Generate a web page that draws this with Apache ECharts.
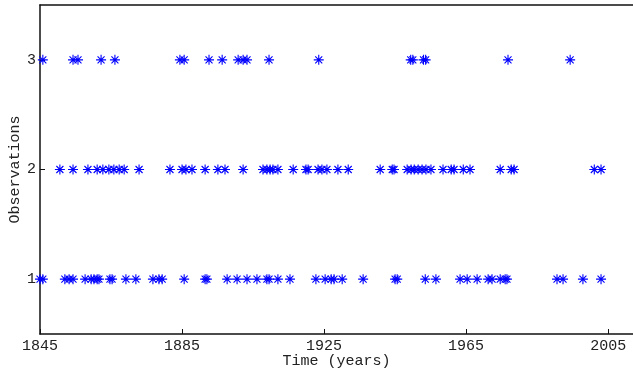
<!DOCTYPE html>
<html>
<head>
<meta charset="utf-8">
<script src="https://cdn.jsdelivr.net/npm/echarts@6/dist/echarts.min.js"></script>
<style>
  html, body { margin: 0; padding: 0; background: #fff; }
  #chart { width: 633px; height: 372px; }
</style>
</head>
<body>
<div id="chart"></div>
<script>
// Years at which each observation count was recorded
const yearsOne = [1845.0, 1845.8, 1852.0, 1853.2, 1854.3, 1857.7, 1859.4, 1860.2, 1861.1, 1861.6,
  1864.7, 1865.3, 1869.2, 1872.0, 1876.8, 1878.5, 1879.4, 1885.6, 1891.5, 1892.0,
  1897.7, 1900.5, 1903.3, 1906.1, 1908.9, 1909.5, 1912.0, 1915.4, 1922.7, 1925.3,
  1927.0, 1927.8, 1930.1, 1936.0, 1945.0, 1945.6, 1953.5, 1956.5, 1963.3, 1965.3,
  1968.1, 1971.2, 1972.3, 1974.6, 1976.0, 1976.5, 1990.6, 1992.3, 1997.9, 2003.0];
const yearsTwo = [1850.6, 1854.3, 1858.5, 1861.1, 1862.7, 1864.4, 1865.8, 1867.3, 1868.7, 1872.9,
  1881.6, 1885.0, 1886.1, 1887.8, 1891.5, 1895.1, 1897.1, 1902.2, 1907.8, 1908.9,
  1909.8, 1910.6, 1912.0, 1916.3, 1919.9, 1920.5, 1923.3, 1924.4, 1925.8, 1928.9,
  1931.8, 1940.8, 1944.2, 1944.7, 1948.4, 1949.5, 1950.4, 1951.5, 1952.6, 1953.7,
  1955.1, 1958.5, 1960.8, 1961.6, 1964.2, 1966.1, 1974.6, 1977.7, 1978.5, 2001.1, 2003.0];
const yearsThree = [1845.8, 1854.3, 1855.7, 1862.2, 1866.1, 1884.4, 1885.6, 1892.6, 1896.3,
  1900.8, 1902.2, 1903.3, 1909.5, 1923.5, 1949.4, 1950.0, 1953.0, 1953.6, 1976.8, 1994.3];
const xTicks = [1845, 1885, 1925, 1965, 2005];
const yTicks = [1, 2, 3];

const points = []
  .concat(yearsOne.map(x => [x, 1]))
  .concat(yearsTwo.map(x => [x, 2]))
  .concat(yearsThree.map(x => [x, 3]));

const FONT = '"Liberation Mono", "DejaVu Sans Mono", monospace';
const ASTERISK = 'path://M10,0L10,20M0,10L20,10M3,3L17,17M3,17L17,3';

const chart = echarts.init(document.getElementById('chart'), null, { renderer: 'canvas' });
chart.setOption({
  animation: false,
  backgroundColor: '#ffffff',
  grid: {
    left: 40, top: 5, right: 0, bottom: 38, show: false,
    containLabel: false, outerBoundsMode: 'none'
  },
  xAxis: [{
    type: 'value',
    min: 1845,
    max: 2012,
    name: 'Time (years)',
    nameLocation: 'middle',
    nameGap: 20,
    nameMoveOverlap: false,
    nameTextStyle: { fontFamily: FONT, fontSize: 15, color: '#222' },
    axisLine: { show: true, lineStyle: { color: '#111', width: 1.5 } },
    axisTick: { show: true, inside: true, length: 5, customValues: xTicks, lineStyle: { color: '#111' } },
    axisLabel: {
      customValues: xTicks, fontFamily: FONT, fontSize: 15, color: '#222', margin: 5,
      formatter: v => String(v)
    },
    splitLine: { show: false }
  }, {
    type: 'value',
    position: 'top',
    min: 1845,
    max: 2012,
    axisLine: { show: true, lineStyle: { color: '#111', width: 1.5 } },
    axisTick: { show: false },
    axisLabel: { show: false },
    splitLine: { show: false }
  }],
  yAxis: {
    type: 'value',
    min: 0.5,
    max: 3.5,
    name: 'Observations',
    nameLocation: 'middle',
    nameGap: 17,
    nameMoveOverlap: false,
    nameTextStyle: { fontFamily: FONT, fontSize: 15, color: '#222' },
    axisLine: { show: true, lineStyle: { color: '#111', width: 1.5 } },
    axisTick: { show: true, inside: true, length: 5, customValues: yTicks, lineStyle: { color: '#111' } },
    axisLabel: {
      customValues: yTicks, fontFamily: FONT, fontSize: 15, color: '#222', margin: 4,
      formatter: v => String(v)
    },
    splitLine: { show: false }
  },
  series: [{
    type: 'scatter',
    data: points,
    symbol: ASTERISK,
    symbolSize: 10,
    itemStyle: { color: 'rgba(0,0,0,0)', borderColor: '#0000ff', borderWidth: 1.1, opacity: 1 },
    emphasis: { disabled: true }
  }]
});
</script>
</body>
</html>
